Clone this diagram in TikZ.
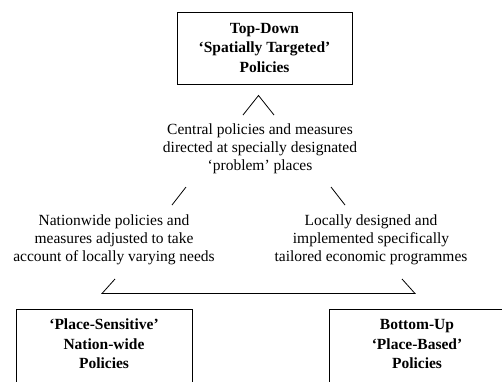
\documentclass[tikz,border=0pt]{standalone}
\usepackage{fontspec}
\setmainfont{Liberation Serif}
\begin{document}
\begin{tikzpicture}[x=1pt,y=-1pt,
  boxtext/.style={align=center,font=\fontsize{15.5}{19.5}\selectfont\bfseries},
  plain/.style={align=center,font=\fontsize{15.5}{18}\selectfont},
  frame/.style={line width=0.8pt},
  tick/.style={line width=0.8pt}]
\useasboundingbox (0,0) rectangle (502,381);
\clip (0,0) rectangle (502,381);
% policy boxes (the lower two run off the bottom edge)
\draw[frame] (177,12) rectangle (352,84.5);
\node[boxtext] (top) at (264.5,47.5) {Top-Down\\‘Spatially Targeted’\\Policies};
\draw[frame] (16,400) |- (192,309.5) -- (192,400);
\node[boxtext] (left) at (104,344) {‘Place-Sensitive’\\Nation-wide\\Policies};
\draw[frame] (329,400) |- (505,309.5) -- (505,400);
\node[boxtext] (right) at (417,344) {Bottom-Up\\‘Place-Based’\\Policies};
% descriptions along the sides of the triangle
\node[plain] (mid) at (260,149) {Central policies and measures\\directed at specially designated\\‘problem’ places};
\node[plain] (ldesc) at (114,240) {Nationwide policies and\\measures adjusted to take\\account of locally varying needs};
\node[plain] (rdesc) at (371,240) {Locally designed and\\implemented specifically\\tailored economic programmes};
% triangle segments
\coordinate (capL) at (243,115); \coordinate (capT) at (258.5,95.5); \coordinate (capR) at (274,115);
\draw[tick] (capL) -- (capT) -- (capR);
\coordinate (ulA) at (172,205); \coordinate (ulB) at (186,187);
\draw[tick] (ulA) -- (ulB);
\coordinate (urA) at (331,187); \coordinate (urB) at (345,205);
\draw[tick] (urA) -- (urB);
\coordinate (bl) at (102,293.5); \coordinate (blT) at (115,279);
\coordinate (br) at (415,293.5); \coordinate (brT) at (402,279);
\draw[tick] (blT) -- (bl) -- (br) -- (brT);
\end{tikzpicture}
\end{document}
